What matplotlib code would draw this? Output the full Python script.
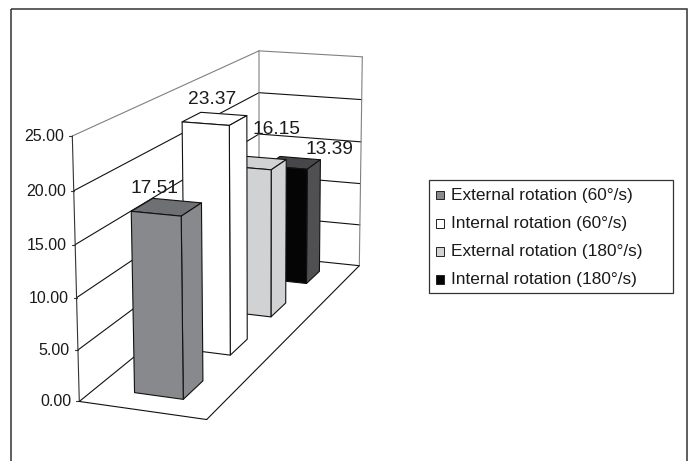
"""3D-look bar chart of rotation values, drawn with a fitted perspective projection."""
import numpy as np
import matplotlib
matplotlib.use("Agg")
import matplotlib.pyplot as plt
from matplotlib.patches import Polygon, Rectangle

plt.rcParams['font.family'] = ['Liberation Sans', 'DejaVu Sans']

series_names = ['External rotation (60°/s)', 'Internal rotation (60°/s)',
                'External rotation (180°/s)', 'Internal rotation (180°/s)']
values = [17.51, 23.37, 16.15, 13.39]
front_colors = ['#88898c', '#ffffff', '#d1d2d4', '#050505']
side_colors = ['#88898c', '#ffffff', '#d1d2d4', '#505052']
top_colors = ['#6f7073', '#ffffff', '#d1d2d4', '#47474a']
y_ticks = [0, 5, 10, 15, 20, 25]
tick_labels = ['0.00', '5.00', '10.00', '15.00', '20.00', '25.00']

VMAX = 25.0
BAR_X = (0.31, 0.70)
DEPTH_START = 0.075
DEPTH_STEP = 0.25
DEPTH_LEN = 0.10
# value labels sit off the bar tops, in pixels
LABEL_OFFSETS = [(-12, -19), (-3, -19), (19, -33), (36, -13)]

# box corners (x, depth, value) and where they land in the image
corners_3d = [(0, 0, 0), (1, 0, 0), (0, 1, 0), (1, 1, 0),
              (0, 0, VMAX), (0, 1, VMAX), (1, 1, VMAX)]
corners_px = [(79.3, 401.7), (206.7, 419.3), (259, 255), (359.3, 266),
              (72.3, 136), (259, 51), (362.3, 56.7)]


def fit_projection(points_3d, points_2d):
    """Least squares fit of a 3x4 projective camera matrix."""
    rows, rhs = [], []
    for (x, d, v), (u, w) in zip(points_3d, points_2d):
        z = v / VMAX
        rows.append([x, d, z, 1, 0, 0, 0, 0, -u * x, -u * d, -u * z])
        rows.append([0, 0, 0, 0, x, d, z, 1, -w * x, -w * d, -w * z])
        rhs += [u, w]
    sol = np.linalg.lstsq(np.array(rows), np.array(rhs), rcond=None)[0]
    return np.append(sol, 1).reshape(3, 4)


P = fit_projection(corners_3d, corners_px)


def project(x, d, v):
    h = P @ np.array([x, d, v / VMAX, 1.0])
    return h[0] / h[2], h[1] / h[2]


fig = plt.figure(figsize=(6.92, 4.61), dpi=100)
ax = fig.add_axes([0, 0, 1, 1])
ax.set_xlim(0, 692)
ax.set_ylim(461, 0)
ax.axis('off')

# outer frame runs off the bottom of the picture
ax.add_patch(Rectangle((11, 9.5), 676, 470, fill=False, ec='#333333', lw=1.1))


def seg(a, b, color='#111111', lw=0.8):
    ax.plot([a[0], b[0]], [a[1], b[1]], color=color, lw=lw, solid_capstyle='round')


# walls and gridlines
for t, lab in zip(y_ticks, tick_labels):
    col = '#808080' if t == VMAX else '#111111'
    seg(project(0, 0, t), project(0, 1, t), col)
    seg(project(0, 1, t), project(1, 1, t), col)
    px, py = project(0, 0, t)
    seg((px - 3, py), (px, py), '#333333')
    ax.text(px - 8, py + 0.5, lab, ha='right', va='center', fontsize=11.5, color='#1a1a1a')
seg(project(0, 0, 0), project(0, 0, VMAX), '#333333')
seg(project(0, 1, 0), project(0, 1, VMAX), '#808080')
seg(project(1, 1, 0), project(1, 1, VMAX), '#808080')
# floor
seg(project(0, 0, 0), project(1, 0, 0))
seg(project(1, 0, 0), project(1, 1, 0))

# bars back to front
for i in range(len(values) - 1, -1, -1):
    v = values[i]
    d0 = DEPTH_START + i * DEPTH_STEP
    d1 = d0 + DEPTH_LEN
    x0, x1 = BAR_X
    faces = [
        ([(x0, d1, v), (x1, d1, v), (x1, d0, v), (x0, d0, v)], top_colors[i]),
        ([(x1, d0, 0), (x1, d1, 0), (x1, d1, v), (x1, d0, v)], side_colors[i]),
        ([(x0, d0, 0), (x1, d0, 0), (x1, d0, v), (x0, d0, v)], front_colors[i]),
    ]
    for pts, col in faces:
        ax.add_patch(Polygon([project(*p) for p in pts], closed=True, fc=col,
                             ec='#111111', lw=0.8, joinstyle='round', zorder=3 + (3 - i)))
    lx, ly = project((x0 + x1) / 2, (d0 + d1) / 2, v)
    ax.text(lx + LABEL_OFFSETS[i][0], ly + LABEL_OFFSETS[i][1], f'{v:.2f}', ha='center',
            va='center', fontsize=13.8, color='#1a1a1a', zorder=10)

# legend
ax.add_patch(Rectangle((429, 179.5), 243.7, 113.5, fc='white', ec='#333333', lw=0.9, zorder=11))
for i, name in enumerate(series_names):
    ly = 195.3 + i * 28.2
    ax.add_patch(Rectangle((435.5, ly - 4.5), 8.5, 8.5, fc=front_colors[i], ec='#222222',
                           lw=0.7, zorder=12))
    ax.text(450.7, ly, name, ha='left', va='center', fontsize=12.4, color='#1a1a1a', zorder=12)

fig.savefig('out.png', dpi=100)
